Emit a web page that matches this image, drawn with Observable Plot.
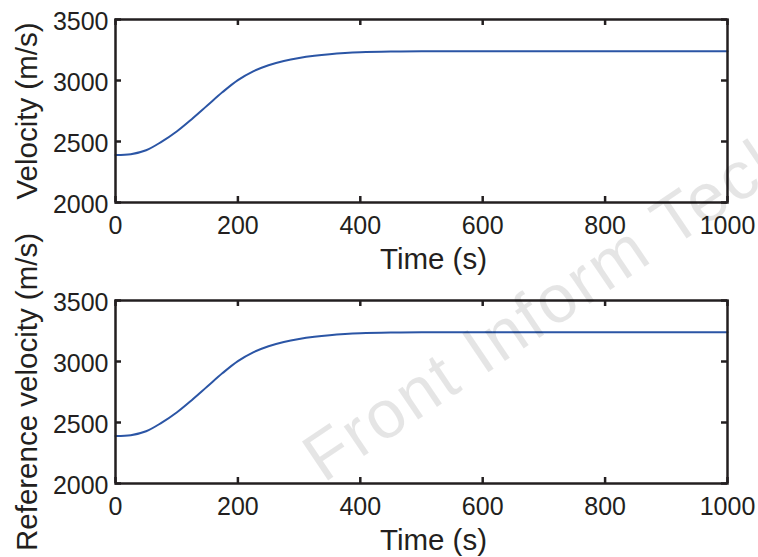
<!DOCTYPE html>
<html>
<head>
<meta charset="utf-8">
<script src="https://cdn.jsdelivr.net/npm/d3@7"></script>
<script src="https://cdn.jsdelivr.net/npm/@observablehq/plot@0.6"></script>
<style>
  html, body { margin: 0; padding: 0; background: #fff; }
  #chart { width: 758px; height: 557px; position: relative; overflow: hidden; }
  #chart svg { display: block; }
</style>
</head>
<body>
<div id="chart"></div>
<script>
// ---- data ----
const times = [0, 25, 50, 75, 100, 125, 150, 175, 200, 225, 250, 275, 300, 325, 350, 375, 400, 450, 500, 600, 800, 1000];
const velocity = [2390, 2396, 2428, 2497, 2582, 2685, 2795, 2905, 3003, 3075, 3125, 3160, 3185, 3203, 3216, 3225, 3231, 3237, 3240, 3240, 3240, 3240];
const referenceVelocity = [2390, 2396, 2428, 2497, 2582, 2685, 2795, 2905, 3003, 3075, 3125, 3160, 3185, 3203, 3216, 3225, 3231, 3237, 3240, 3240, 3240, 3240];
const xTicks = [0, 200, 400, 600, 800, 1000];
const yTicks = [2000, 2500, 3000, 3500];
const xLabel = "Time (s)";
const yLabelTop = "Velocity (m/s)";
const yLabelBottom = "Reference velocity (m/s)";
const watermark = "Front Inform Tech";

const topData = times.map((t, i) => ({t, v: velocity[i]}));
const bottomData = times.map((t, i) => ({t, v: referenceVelocity[i]}));

const W = 758, ML = 115, MR = 31;
const ink = "#231f20";
const blue = "#2b55a5";
const font = "'Liberation Sans', Arial, Helvetica, sans-serif";

function panel({data, yLabel, height, marginTop, marginBottom, extra = []}) {
  const frameH = height - marginTop - marginBottom;
  const frameW = W - ML - MR;
  const tick = 6;
  return Plot.plot({
    width: W, height, marginLeft: ML, marginRight: MR, marginTop, marginBottom,
    style: {background: "transparent", overflow: "visible", fontFamily: font, color: ink, fontSize: "25px"},
    x: {domain: [0, 1000]},
    y: {domain: [2000, 3500]},
    marks: [
      Plot.axisX(xTicks, {anchor: "bottom", tickSize: 0, tickPadding: 14, fontSize: 25, label: null, tickFormat: d => String(d)}),
      Plot.axisY(yTicks, {anchor: "left", tickSize: 0, tickPadding: 7, fontSize: 25, dy: 2, label: null, tickFormat: d => String(d)}),
      Plot.tickX(xTicks, {x: d => d, insetTop: frameH - tick, stroke: ink, strokeWidth: 2.5}),
      Plot.tickX(xTicks, {x: d => d, insetBottom: frameH - tick, stroke: ink, strokeWidth: 2.5}),
      Plot.tickY(yTicks, {y: d => d, insetRight: frameW - tick, stroke: ink, strokeWidth: 2.5}),
      Plot.tickY(yTicks, {y: d => d, insetLeft: frameW - tick, stroke: ink, strokeWidth: 2.5}),
      Plot.line(data, {x: "t", y: "v", stroke: blue, strokeWidth: 2, curve: "catmull-rom"}),
      Plot.frame({stroke: ink, strokeWidth: 2.5}),
      Plot.text([xLabel], {text: d => d, frameAnchor: "bottom", dx: 12, dy: 66, lineAnchor: "bottom", fontSize: 29.5, fill: ink}),
      Plot.text([yLabel], {text: d => d, frameAnchor: "left", textAnchor: "middle", dx: -79, rotate: -90, lineAnchor: "bottom", fontSize: 29.5, fill: ink}),
      ...extra
    ]
  });
}

const chartEl = document.getElementById("chart");
const topPlot = panel({data: topData, yLabel: yLabelTop, height: 280, marginTop: 19, marginBottom: 78});
const bottomPlot = panel({
  data: bottomData, yLabel: yLabelBottom, height: 277, marginTop: 20, marginBottom: 74,
  extra: [
    Plot.text([watermark], {text: d => d, frameAnchor: "top-left", dx: 208, dy: 183, rotate: -34,
      textAnchor: "start", lineAnchor: "bottom", fontSize: 68, fill: "#000", fillOpacity: 0.1})
  ]
});
chartEl.appendChild(topPlot);
chartEl.appendChild(bottomPlot);
d3.select(bottomPlot).selectAll("text").filter(function() { return this.textContent === watermark; })
  .attr("letter-spacing", "2.5px");
</script>
</body>
</html>
